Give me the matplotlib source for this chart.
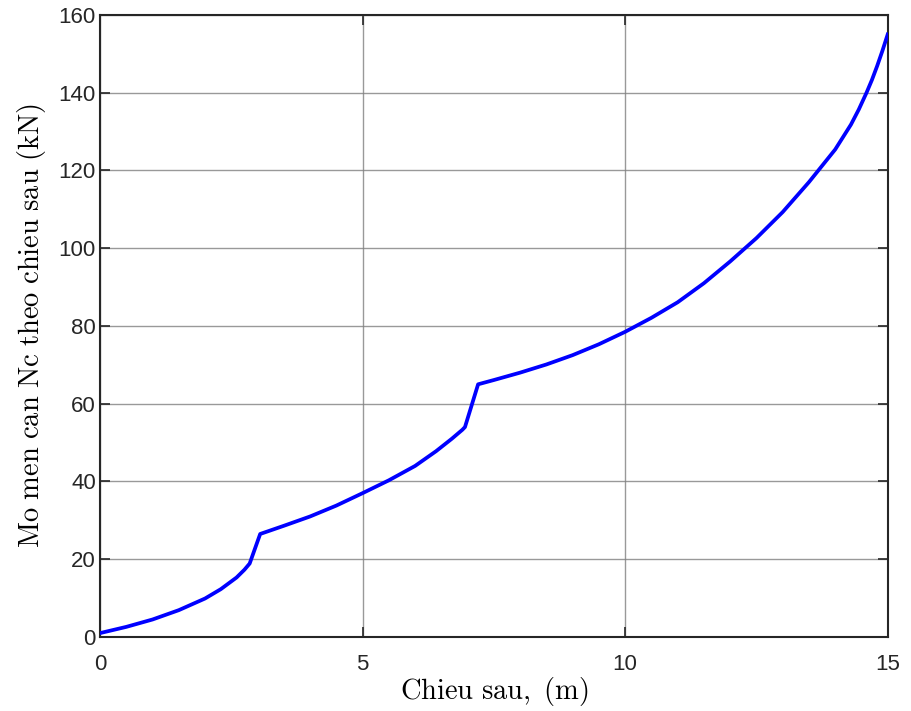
import numpy as np
import matplotlib
matplotlib.use('Agg')
import matplotlib.pyplot as plt

plt.rcParams['mathtext.fontset'] = 'cm'
plt.rcParams['font.family'] = ['Liberation Sans', 'DejaVu Sans']

# depth (m) and moment values
depth = [0, 0.5, 1.0, 1.5, 2.0, 2.3, 2.6, 2.75, 2.85, 3.05, 3.5, 4.0, 4.5,
         5.0, 5.5, 6.0, 6.4, 6.7, 6.9, 6.95, 7.2, 7.5, 8.0, 8.5, 9.0, 9.5,
         10.0, 10.5, 11.0, 11.5, 12.0, 12.5, 13.0, 13.5, 14.0, 14.3, 14.45,
         14.6, 14.7, 14.8, 14.9, 15.0]
moment = [1.0, 2.6, 4.5, 6.9, 9.9, 12.3, 15.3, 17.3, 18.9, 26.5, 28.6, 31.0,
          33.8, 37.0, 40.3, 44.0, 47.8, 51.0, 53.3, 54.0, 65.0, 66.1, 68.0,
          70.1, 72.5, 75.3, 78.5, 82.1, 86.1, 91.0, 96.6, 102.6, 109.3, 117.0,
          125.4, 131.8, 135.7, 140.1, 143.3, 146.9, 150.8, 155.0]

xticks = [0, 5, 10, 15]
yticks = [0, 20, 40, 60, 80, 100, 120, 140, 160]

fig = plt.figure(figsize=(9.11, 7.11), dpi=100)
ax = fig.add_axes([0.1098, 0.1041, 0.8646, 0.8748])

ax.plot(depth, moment, color='#0000ff', linewidth=2.7, zorder=3,
        solid_joinstyle='round')

ax.set_xlim(0, 15)
ax.set_ylim(0, 160)
ax.set_xticks(xticks)
ax.set_yticks(yticks)
ax.grid(True, color='#808080', linewidth=1.0, alpha=0.8)
ax.set_axisbelow(True)

ax.tick_params(direction='in', length=7, width=1.2, colors='#262626',
               labelsize=16, top=True, right=True)
ax.tick_params(axis='y', pad=3)
ax.tick_params(axis='x', pad=12)
for s in ax.spines.values():
    s.set_linewidth(1.5)
    s.set_color('#262626')

ax.set_xlabel(r'$\mathrm{Chieu\ sau,\ (m)}$', fontsize=20.5, labelpad=0)
ax.set_ylabel(r'$\mathrm{Mo\ men\ can\ Nc\ theo\ chieu\ sau\ (kN)}$',
              fontsize=20.5, labelpad=8)

fig.savefig('out.png', dpi=100)
